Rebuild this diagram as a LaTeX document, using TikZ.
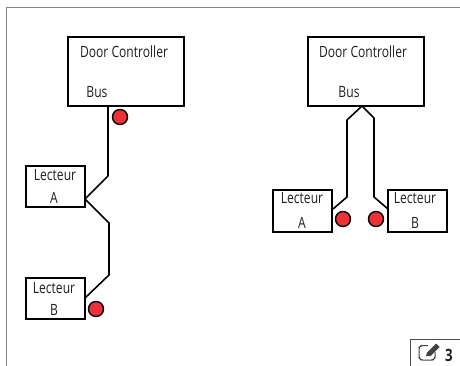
\documentclass[tikz,border=0pt]{standalone}
\usepackage{fontspec}
\setmainfont[FakeStretch=0.78]{Open Sans}
\definecolor{ledred}{RGB}{238,49,56}
\definecolor{inkc}{RGB}{35,31,32}
\definecolor{framec}{RGB}{130,130,130}
\tikzset{
 ctrl/.style={draw=black,line width=1.6pt,fill=white,minimum width=116pt,minimum height=69pt,inner sep=0pt},
 rdr/.style={draw=black,line width=1.6pt,fill=white,minimum width=59pt,inner sep=0pt},
 wire/.style={draw=black,line width=1.6pt,line join=round},
 led/.style={circle,draw=black,line width=1.4pt,fill=ledred,minimum size=15pt,inner sep=0pt},
 lab/.style={font=\fontsize{15.5}{17}\selectfont,text=inkc,inner sep=0pt,anchor=base},
 framel/.style={draw=framec,line width=1pt},
}
\begin{document}
\begin{tikzpicture}[x=1pt,y=-1pt]
\useasboundingbox (0,0) rectangle (460,366);
\fill[white] (0,0) rectangle (460,366);
\coordinate (fa) at (6,366); \coordinate (fb) at (6,8); \coordinate (fc) at (460,8);
\draw[framel] (fa) -- (fb) -- (fc);
\coordinate (ba) at (410,366); \coordinate (bb) at (410,339); \coordinate (bc) at (460,339);
\draw[draw=black!70,line width=.8pt] (ba) -- (bb) -- (bc);
% boxes
\node[ctrl] (c1) at (126,71.5) {};
\node[ctrl] (c2) at (366,71.5) {};
\node[rdr,minimum height=41pt] (ra) at (55.5,186.5) {};
\node[rdr,minimum height=41pt] (rb) at (55.5,298.5) {};
\node[rdr,minimum height=42pt] (sa) at (302.5,211) {};
\node[rdr,minimum height=42pt] (sb) at (417.5,211) {};
% labels
\node[lab] (t1) at (124,58) {Door Controller};
\node[lab] (t2) at (97,98) {Bus};
\node[lab] (t3) at (363,58) {Door Controller};
\node[lab] (t4) at (349,98) {Bus};
\node[lab] (l1) at (55,181) {Lecteur};
\node[lab] (l2) at (54,203) {A};
\node[lab] (l3) at (54,293) {Lecteur};
\node[lab] (l4) at (54,315) {B};
\node[lab] (l5) at (302,204) {Lecteur};
\node[lab] (l6) at (302,228) {A};
\node[lab] (l7) at (415,204) {Lecteur};
\node[lab] (l8) at (415,228) {B};
% wires
\coordinate (j) at (85,199);
\coordinate (w1) at (108,176);
\coordinate (w2) at (109,223);
\coordinate (w3) at (109,275);
\coordinate (wb) at (85,298);
\coordinate (c1b) at (108,106);
\draw[wire] (c1b) -- (w1) -- (j) -- (w2) -- (w3) -- (wb);
\coordinate (ap) at (362,106);
\coordinate (x1) at (347,120); \coordinate (x2) at (347,197); \coordinate (x3) at (333,209);
\coordinate (y1) at (374,118); \coordinate (y2) at (374,197); \coordinate (y3) at (388,209);
\draw[wire] (x3) -- (x2) -- (x1) -- (ap) -- (y1) -- (y2) -- (y3);
% leds
\node[led] (d1) at (120,117) {};
\node[led] (d2) at (96,309) {};
\node[led] (d3) at (343,219) {};
\node[led] (d4) at (376,219) {};
% badge
\draw[inkc!85,line width=1pt,rounded corners=1.6pt] (428,345.5) -- (421,345.5) -- (419,347.5) -- (419,358) -- (421,360) -- (433,360) -- (435,358) -- (435,352);
\fill[inkc!85] (426,356) -- (427,352.5) -- (436,343.5) -- (439.5,347) -- (430.5,356) -- cycle;
\node[lab,font=\fontsize{17}{18}\selectfont\bfseries] (n) at (449,361) {3};
\end{tikzpicture}
\end{document}
